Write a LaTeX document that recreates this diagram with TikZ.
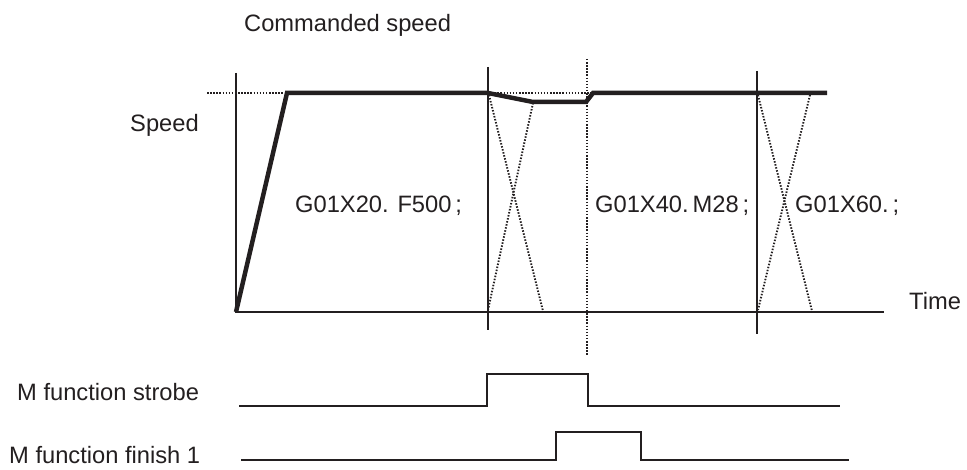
\documentclass[tikz,border=0pt]{standalone}
\usepackage{fontspec}
\setmainfont{Liberation Sans}
\definecolor{ink}{HTML}{231F20}
\begin{document}
\begin{tikzpicture}[x=1pt,y=-1pt,
  thin line/.style={draw=ink,line width=1.6pt},
  thick line/.style={draw=ink,line width=4.5pt,line join=miter},
  dot line/.style={draw=ink,line width=1.9pt,dash pattern=on 1.5pt off 1.6pt},
  label/.style={anchor=base west,inner sep=0pt,text=ink,font=\fontsize{23.7}{28}\selectfont}]
\useasboundingbox (0,0) rectangle (967,470);
% texts
\node[label] (cmd) at (244,32) {Commanded speed};
\node[label] (spd) at (130,132) {Speed};
\node[label] (time) at (909,310) {Time};
\node[label] (blk1) at (295,213) {G01X20. F500\,;};
\node[label] (blk2) at (595,213) {G01X40.\,M28\,;};
\node[label] (blk3) at (795,213) {G01X60.\,;};
\node[label] (strb) at (17,400) {M function strobe};
\node[label] (fin) at (9,463) {M function finish 1};
% key coordinates
\coordinate (o) at (236,312);
\coordinate (ytop) at (236,73);
\coordinate (xend) at (884,312);
\coordinate (v1t) at (488,67);
\coordinate (v1b) at (488,330);
\coordinate (v2t) at (587,59);
\coordinate (v2b) at (587,355);
\coordinate (v3t) at (757,71);
\coordinate (v3b) at (757,334);
% axes and block boundaries
\draw[thin line] (ytop) -- (o) -- (xend);
\draw[thin line] (v1t) -- (v1b);
\draw[thin line] (v3t) -- (v3b);
\draw[dot line] (v2t) -- (v2b);
% commanded speed dotted
\draw[dot line] (207,93) -- (286,93);
\draw[dot line] (488,93) -- (593,93);
% X overlaps
\draw[dot line] (489,95) -- (543,311);
\draw[dot line] (533,103) -- (488,310);
\draw[dot line] (758,95) -- (812,311);
\draw[dot line] (810,95) -- (758,310);
% speed profile
\draw[thick line] (236,312) -- (287,93) -- (488,93) -- (533,102) -- (586,102) -- (593,93) -- (827,93);
% strobe
\draw[thin line] (239,406) -- (487,406) -- (487,374) -- (588,374) -- (588,406) -- (840,406);
% finish
\draw[thin line] (241,460) -- (556,460) -- (556,432) -- (641,432) -- (641,460) -- (849,460);
\end{tikzpicture}
\end{document}
